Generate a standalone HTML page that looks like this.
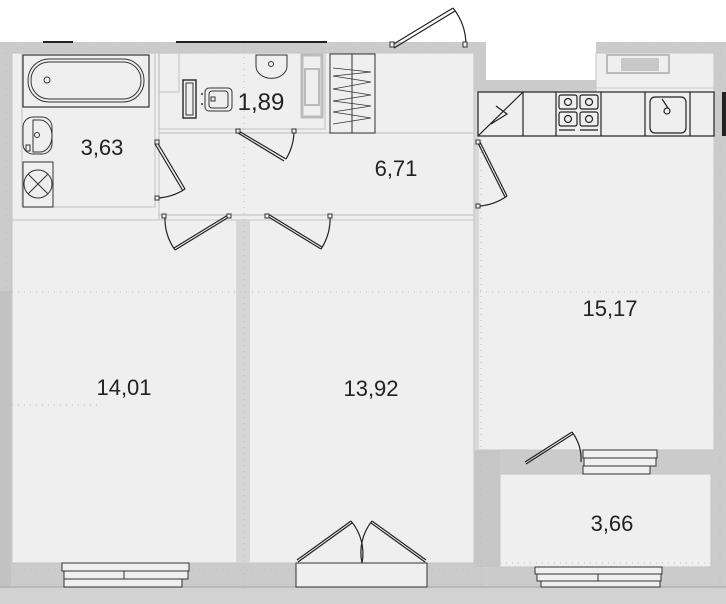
<!DOCTYPE html>
<html><head><meta charset="utf-8"><style>
html,body{margin:0;padding:0;background:#fff;}
svg{display:block;}
text{font-family:"Liberation Sans",sans-serif;font-size:22px;fill:#222;}
</style></head><body>
<svg width="726" height="604" viewBox="0 0 726 604" xmlns="http://www.w3.org/2000/svg">
<path d="M0 42 H486 V80 H596 V42 H726 V604 H0 Z" fill="#cbcbcb"/>
<rect x="0" y="291" width="11" height="313" fill="#c2c2c2"/>
<line x1="0" y1="587" x2="726" y2="587" stroke="#aaa" stroke-width="1"/>
<rect x="0" y="588" width="726" height="16" fill="#d2d2d2"/>
<line x1="43" y1="42" x2="73" y2="42" stroke="#222" stroke-width="2"/>
<line x1="176" y1="42" x2="327" y2="42" stroke="#222" stroke-width="2"/>
<g fill="#efefef" stroke="#c6c6c6" stroke-width="1">
<rect x="12" y="53" width="462" height="167"/>
<rect x="12" y="220" width="225" height="343"/>
<rect x="249" y="220" width="225" height="343"/>
<rect x="478" y="92" width="236" height="358"/>
<rect x="500" y="474" width="211" height="93"/>
<rect x="596" y="53" width="118" height="39"/>
</g>
<rect x="474" y="92" width="4" height="358" fill="#d8d8d8"/>
<rect x="237" y="220" width="12" height="343" fill="#d6d6d6"/>
<rect x="474" y="450" width="26" height="117" fill="#c6c6c6"/>
<g fill="none" stroke="#c8c8c8" stroke-width="1.2">
<rect x="12" y="53" width="147" height="167"/>
<rect x="22" y="53" width="133" height="154"/>
<rect x="159" y="53" width="166" height="76"/>
<rect x="159" y="53" width="20" height="39"/>
<line x1="159" y1="133" x2="474" y2="133"/>
<line x1="159" y1="215" x2="474" y2="215"/>
<line x1="474" y1="53" x2="474" y2="450"/>
</g>
<g stroke="#bbb" stroke-width="1" stroke-dasharray="1,5" fill="none">
<line x1="5" y1="48" x2="470" y2="48"/>
<line x1="600" y1="48" x2="720" y2="48"/>
<line x1="12" y1="292" x2="714" y2="292"/>
<line x1="12" y1="405" x2="100" y2="405"/>
<line x1="6" y1="53" x2="6" y2="590"/>
<line x1="244" y1="45" x2="244" y2="590"/>
<line x1="481" y1="140" x2="481" y2="590"/>
<line x1="720" y1="48" x2="720" y2="590"/>
<line x1="12" y1="570" x2="474" y2="570"/>
<line x1="500" y1="563" x2="711" y2="563"/>
</g>
<rect x="23" y="55" width="126" height="52" fill="#efefef" stroke="#333" stroke-width="1.2"/>
<rect x="28" y="59" width="116" height="43" rx="21" fill="none" stroke="#333"/>
<rect x="31" y="62" width="110" height="37" rx="18" fill="none" stroke="#333"/>
<circle cx="47" cy="80" r="3" fill="none" stroke="#333"/>
<rect x="23" y="117" width="29" height="37" rx="10" fill="none" stroke="#333"/>
<path d="M33 120 H40 A12 16 0 0 1 40 152 H33 Z" fill="none" stroke="#333"/>
<circle cx="37" cy="135" r="2.5" fill="none" stroke="#333"/>
<rect x="26" y="145" width="4" height="6" fill="none" stroke="#333"/>
<rect x="23" y="162" width="30" height="45" fill="none" stroke="#333"/>
<circle cx="38" cy="184" r="14" fill="none" stroke="#333"/>
<path d="M28 174 L48 194 M48 174 L28 194" stroke="#333"/>
<rect x="183" y="80" width="13" height="38" fill="#efefef" stroke="#333" stroke-width="1.5"/>
<rect x="186" y="83" width="7" height="32" fill="none" stroke="#333"/>
<rect x="205" y="88" width="27" height="23" rx="4" fill="none" stroke="#333"/>
<rect x="209" y="91" width="19" height="17" rx="3" fill="none" stroke="#333"/>
<rect x="211" y="97" width="4" height="4" fill="none" stroke="#333"/>
<circle cx="202" cy="94" r="1" fill="#333"/><circle cx="202" cy="104" r="1" fill="#333"/>
<path d="M256 55 H287 V66 A15 12 0 0 1 256 66 Z" fill="none" stroke="#333"/>
<circle cx="271" cy="64" r="2.5" fill="none" stroke="#333"/>
<rect x="302" y="55" width="20" height="62" fill="none" stroke="#bbb" stroke-width="3"/>
<rect x="305" y="69" width="14" height="36" fill="none" stroke="#bbb" stroke-width="2"/>
<rect x="330" y="54" width="45" height="79" fill="#efefef" stroke="#333"/>
<line x1="352" y1="54" x2="352" y2="133" stroke="#333"/>
<path d="M333 68 L371 72 L333 76 L371 82 L333 89 L371 95 L333 101 L371 106 L333 112 L371 118 L333 124" fill="none" stroke="#333" stroke-width="0.8"/>
<g fill="none" stroke="#222" stroke-width="1.2">
<rect x="478" y="92" width="236" height="44" fill="#efefef"/>
<line x1="523" y1="92" x2="523" y2="136"/>
<line x1="556" y1="92" x2="556" y2="136"/>
<line x1="601" y1="92" x2="601" y2="136"/>
<line x1="645" y1="92" x2="645" y2="136"/>
<line x1="690" y1="92" x2="690" y2="136"/>
<path d="M478 136 L523 92 M496 106 L507 114 L491 124"/>
<rect x="559" y="95" width="18" height="14" rx="2"/><rect x="580" y="95" width="18" height="14" rx="2"/>
<rect x="559" y="112" width="18" height="14" rx="2"/><rect x="580" y="112" width="18" height="14" rx="2"/>
<circle cx="568" cy="102" r="3.5"/><circle cx="589" cy="102" r="3.5"/><circle cx="568" cy="119" r="3.5"/><circle cx="589" cy="119" r="3.5"/>
<path d="M559 130 H575 M580 130 H598"/>
<rect x="650" y="97" width="36" height="36" rx="5"/>
<circle cx="667" cy="111" r="3"/><path d="M662 99 L668 108"/>
</g>
<rect x="722" y="92" width="4" height="44" fill="#222"/>
<rect x="607" y="55" width="62" height="18" fill="none" stroke="#bbb" stroke-width="2"/>
<rect x="621" y="58" width="38" height="13" fill="#c8c8c8"/>
<line x1="596" y1="88" x2="714" y2="88" stroke="#ccc"/>
<g fill="none" stroke="#222" stroke-width="1.2">
<path d="M392 45 L453 8 M394 48 L455 11"/><path d="M453 8 A60 60 0 0 1 466 45"/>
<path d="M157 142 L185 189 M155 144 L183 191"/><path d="M185 189 A55 55 0 0 1 157 198"/>
<path d="M237 130 L286 159 M238 133 L284 161"/><path d="M286 159 A55 55 0 0 0 294 130"/>
<path d="M229 217 L175 250 M228 215 L174 248"/><path d="M175 250 A55 55 0 0 1 165 216"/>
<path d="M267 216 L321 249 M268 214 L322 247"/><path d="M321 249 A55 55 0 0 0 330 216"/>
<path d="M480 142 L507 196 M478 143 L505 197"/><path d="M507 196 A55 55 0 0 1 480 206"/>
<path d="M525 462 L572 432 M526 464 L573 434"/><path d="M572 432 A45 45 0 0 1 581 462"/>
<path d="M297 560 L351 521 M298 562 L352 523"/><path d="M351 521 A50 50 0 0 1 362 563"/>
<path d="M426 560 L372 521 M425 562 L371 523"/><path d="M372 521 A50 50 0 0 0 362 563"/>
</g>
<g fill="#efefef" stroke="#333" stroke-width="1">
<rect x="390" y="42" width="4" height="5"/><rect x="463" y="42" width="4" height="5"/>
<rect x="155" y="140" width="4" height="4"/><rect x="155" y="196" width="4" height="4"/>
<rect x="236" y="129" width="4" height="4"/><rect x="292" y="129" width="4" height="4"/>
<rect x="162" y="214" width="4" height="4"/><rect x="227" y="214" width="4" height="4"/>
<rect x="265" y="214" width="4" height="4"/><rect x="328" y="214" width="4" height="4"/>
<rect x="476" y="140" width="4" height="4"/><rect x="476" y="204" width="4" height="4"/>
</g>
<g fill="#efefef" stroke="#333" stroke-width="1">
<rect x="62" y="563" width="127" height="8"/><rect x="64" y="571" width="124" height="8"/><rect x="64" y="579" width="118" height="8"/>
<line x1="124" y1="571" x2="124" y2="579"/>
<path d="M296 563 V587 H427 V563 Z"/>
<rect x="583" y="450" width="74" height="8"/><rect x="584" y="458" width="72" height="8"/><rect x="583" y="466" width="67" height="8"/>
<rect x="535" y="567" width="127" height="7"/><rect x="537" y="574" width="124" height="7"/><rect x="541" y="581" width="119" height="6"/>
<line x1="598" y1="574" x2="598" y2="581"/>
</g>
<text x="102" y="155" text-anchor="middle">3,63</text>
<text x="261" y="110" text-anchor="middle" style="font-size:24px">1,89</text>
<text x="396" y="176" text-anchor="middle">6,71</text>
<text x="610" y="316" text-anchor="middle">15,17</text>
<text x="124" y="395" text-anchor="middle">14,01</text>
<text x="371" y="396" text-anchor="middle">13,92</text>
<text x="612" y="531" text-anchor="middle">3,66</text>
</svg>
</body></html>
